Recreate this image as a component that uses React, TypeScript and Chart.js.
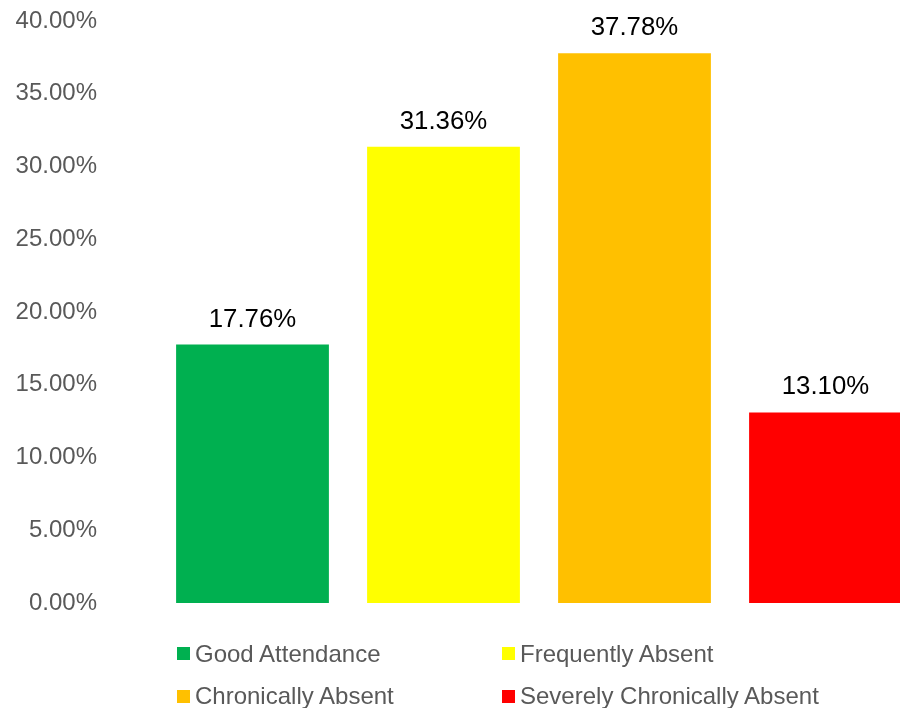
import React, { useEffect, useRef } from "react";
import { Chart, registerables } from "chart.js";

Chart.register(...registerables);

const categories = ["Good Attendance", "Frequently Absent", "Chronically Absent", "Severely Chronically Absent"];
const values = [17.76, 31.36, 37.78, 13.1];
const colors = ["#00B050", "#FFFF00", "#FFC000", "#FF0000"];
const yTicks = [0, 5, 10, 15, 20, 25, 30, 35, 40];

const FONT = "'Liberation Sans', Arial, sans-serif";

const dataLabelPlugin = {
  id: "dataLabels",
  afterDatasetsDraw(chart: any) {
    const ctx = chart.ctx;
    const meta = chart.getDatasetMeta(0);
    ctx.save();
    ctx.font = `25.8px ${FONT}`;
    ctx.fillStyle = "#000000";
    ctx.textAlign = "center";
    ctx.textBaseline = "alphabetic";
    meta.data.forEach((bar: any, i: number) => {
      ctx.fillText(values[i].toFixed(2) + "%", bar.x, bar.y - 18);
    });
    ctx.restore();
  },
};

const legendPos = [
  { left: 177, top: 653.5 },
  { left: 502, top: 653.5 },
  { left: 177, top: 696 },
  { left: 502, top: 696 },
];

export default function App() {
  const ref = useRef<HTMLCanvasElement>(null);
  useEffect(() => {
    if (!ref.current) return;
    const chart = new Chart(ref.current, {
      type: "bar",
      data: {
        labels: categories,
        datasets: [
          {
            label: "Share",
            data: values,
            backgroundColor: colors,
            borderWidth: 0,
            barPercentage: 0.8,
            categoryPercentage: 1,
          },
        ],
      },
      options: {
        responsive: false,
        animation: false,
        layout: { padding: { left: 16, top: 21, right: 9, bottom: 105 } },
        plugins: { legend: { display: false }, tooltip: { enabled: false } },
        scales: {
          x: { display: false, grid: { display: false } },
          y: {
            min: 0,
            max: 40,
            afterBuildTicks: (axis: any) => {
              axis.ticks = yTicks.map((v) => ({ value: v }));
            },
            afterFit: (axis: any) => {
              axis.width = 141;
              axis.paddingTop = 0;
              axis.paddingBottom = 0;
            },
            grid: { display: false, drawTicks: false },
            border: { display: false },
            ticks: {
              padding: 60,
              color: "#595959",
              font: { family: FONT, size: 24 },
              callback: (v: any) => Number(v).toFixed(2) + "%",
            },
          },
        },
      },
      plugins: [dataLabelPlugin],
    });
    return () => chart.destroy();
  }, []);

  return (
    <div
      style={{
        position: "fixed",
        left: 0,
        top: 0,
        width: 900,
        height: 708,
        overflow: "hidden",
        background: "#ffffff",
      }}
    >
      <canvas ref={ref} width={930} height={708} style={{ position: "absolute", left: 0, top: 0 }} />
      {categories.map((c, i) => (
        <div
          key={c}
          style={{
            position: "absolute",
            left: legendPos[i].left,
            top: legendPos[i].top - 15,
            height: 30,
            display: "flex",
            alignItems: "center",
            whiteSpace: "nowrap",
            fontFamily: FONT,
            fontSize: 24,
            color: "#595959",
          }}
        >
          <span style={{ display: "inline-block", width: 13, height: 13, background: colors[i], marginRight: 5 }} />
          <span>{c}</span>
        </div>
      ))}
    </div>
  );
}
